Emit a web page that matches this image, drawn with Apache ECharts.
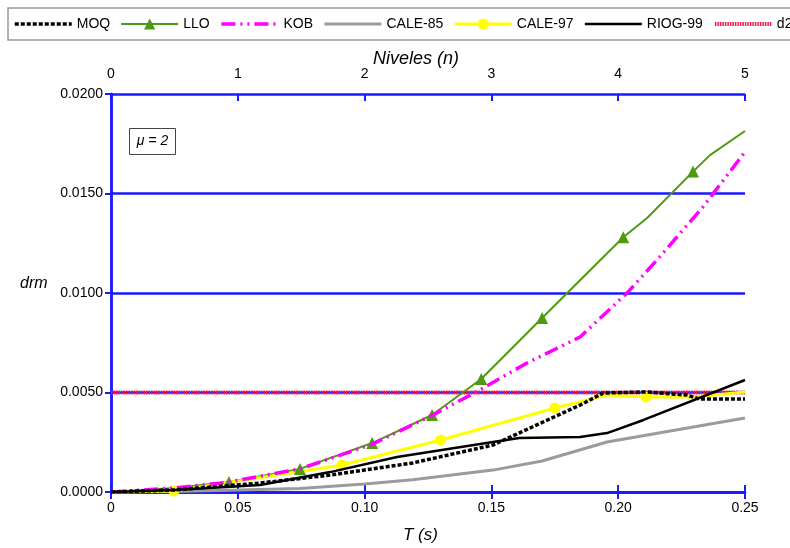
<!DOCTYPE html>
<html>
<head>
<meta charset="utf-8">
<script src="https://cdn.jsdelivr.net/npm/echarts@6/dist/echarts.min.js"></script>
<style>
  html, body { margin: 0; padding: 0; background: #fff; }
  #chart { width: 790px; height: 548px; }
</style>
</head>
<body>
<div id="chart"></div>
<script>
// Periods T (s) and roof drift ratio drm for each method
const moqT   = [0, 0.025, 0.0588, 0.0864, 0.119, 0.1506, 0.185, 0.194, 0.211, 0.227, 0.232, 0.25];
const moqDrm = [0, 0.0001, 0.00045, 0.00085, 0.00146, 0.00236, 0.00437, 0.00497, 0.00503, 0.00487, 0.00467, 0.00467];

const lloT   = [0, 0.025, 0.0465, 0.0745, 0.103, 0.1266, 0.146, 0.170, 0.202, 0.2114, 0.2295, 0.2362, 0.25];
const lloDrm = [0, 0.0002, 0.0005, 0.00116, 0.00246, 0.00387, 0.00568, 0.00874, 0.0128, 0.01377, 0.0161, 0.01693, 0.01814];
const lloMarked = [2, 3, 4, 5, 6, 7, 8, 10];

const kobT   = [0, 0.025, 0.0465, 0.0745, 0.103, 0.1266, 0.1455, 0.164, 0.185, 0.2035, 0.2153, 0.2334, 0.25];
const kobDrm = [0, 0.0002, 0.0005, 0.00116, 0.0024, 0.00385, 0.00513, 0.00648, 0.00779, 0.0100, 0.01166, 0.01432, 0.01709];

const cale85T   = [0, 0.025, 0.05, 0.0745, 0.10, 0.119, 0.1506, 0.17, 0.1956, 0.25];
const cale85Drm = [0, 0.00003, 0.0001, 0.00018, 0.0004, 0.00062, 0.0011, 0.00156, 0.00251, 0.00372];

const cale97T   = [0, 0.0248, 0.0911, 0.130, 0.175, 0.1955, 0.211, 0.2295, 0.25];
const cale97Drm = [0, 0.00005, 0.00136, 0.00261, 0.00422, 0.00487, 0.00478, 0.00477, 0.00503];
const cale97Marked = [1, 2, 3, 4, 6];

const riogT   = [0, 0.025, 0.0588, 0.0864, 0.1128, 0.1506, 0.161, 0.185, 0.1956, 0.21, 0.25];
const riogDrm = [0, 0.0001, 0.00035, 0.001, 0.00176, 0.00251, 0.00271, 0.00276, 0.00296, 0.00362, 0.00563];

const d2T   = [0, 0.25];
const d2Drm = [0.005, 0.005];

// Axis ranges and tick labels
const tTicks = [0, 0.05, 0.10, 0.15, 0.20, 0.25];
const tLabels = ['0', '0.05', '0.10', '0.15', '0.20', '0.25'];
const levelTicks = ['0', '1', '2', '3', '4', '5'];

const BLUE = '#1a1aff';
const FONT = 'Liberation Sans, Arial, sans-serif';

function pairs(xs, ys, marked) {
  return xs.map((x, i) => {
    if (!marked) return [x, ys[i]];
    return marked.includes(i) ? { value: [x, ys[i]] } : { value: [x, ys[i]], symbol: 'none' };
  });
}

// legend entries: plain-line series show no marker in their key
const lineOnly = { itemStyle: { opacity: 0 } };

const chart = echarts.init(document.getElementById('chart'), null, { renderer: 'canvas' });

chart.setOption({
  animation: false,
  backgroundColor: '#fff',
  textStyle: { fontFamily: FONT },
  legend: {
    left: 8, top: 8, width: 900,
    padding: [9, 7, 9, 5],
    borderColor: '#9a9a9a', borderWidth: 1.5,
    itemWidth: 57, itemHeight: 14, itemGap: 10,
    lineStyle: { width: 'inherit' },
    textStyle: { fontSize: 14, color: '#000', fontFamily: FONT },
    data: [
      Object.assign({ name: 'MOQ' }, lineOnly),
      { name: 'LLO' },
      Object.assign({ name: 'KOB' }, lineOnly),
      Object.assign({ name: 'CALE-85' }, lineOnly),
      { name: 'CALE-97' },
      Object.assign({ name: 'RIOG-99' }, lineOnly),
      Object.assign({ name: 'd2' }, lineOnly)
    ]
  },
  grid: { left: 111, right: 45, top: 94, bottom: 56, containLabel: false },
  xAxis: [
    {
      type: 'value', position: 'bottom', min: 0, max: 0.25, interval: 0.05,
      axisLine: { show: true, lineStyle: { color: BLUE, width: 2.5 } },
      axisTick: { show: true, inside: false, length: 7, lineStyle: { color: BLUE, width: 2 } },
      splitLine: { show: false },
      axisLabel: {
        fontSize: 14, color: '#000', margin: 9, fontFamily: FONT,
        formatter: v => { const i = tTicks.findIndex(t => Math.abs(t - v) < 1e-9); return i >= 0 ? tLabels[i] : ''; }
      }
    },
    {
      type: 'value', position: 'top', min: 0, max: 5, interval: 1,
      axisLine: { show: true, lineStyle: { color: BLUE, width: 2.5 } },
      axisTick: { show: true, inside: false, length: 7, lineStyle: { color: BLUE, width: 2 } },
      splitLine: { show: false },
      axisLabel: { fontSize: 14, color: '#000', margin: 13, fontFamily: FONT, formatter: v => levelTicks[Math.round(v)] }
    },
    {
      type: 'value', position: 'top', min: 0, max: 5, interval: 1,
      axisLine: { show: false },
      axisTick: { show: true, inside: true, length: 7, lineStyle: { color: BLUE, width: 2 } },
      splitLine: { show: false },
      axisLabel: { show: false }
    }
  ],
  yAxis: [
    {
      type: 'value', position: 'left', min: 0, max: 0.02, interval: 0.005,
      axisLine: { show: true, lineStyle: { color: BLUE, width: 2.5 } },
      axisTick: { show: true, inside: false, length: 6, lineStyle: { color: BLUE, width: 2 } },
      splitLine: { show: true, lineStyle: { color: BLUE, width: 2.5 } },
      axisLabel: { fontSize: 14, color: '#000', margin: 8, fontFamily: FONT, formatter: v => v.toFixed(4) }
    },
    {
      type: 'value', position: 'right', min: 0, max: 0.02, interval: 0.005,
      axisLine: { show: true, lineStyle: { color: BLUE, width: 2.5 } },
      axisTick: { show: false }, axisLabel: { show: false }, splitLine: { show: false }
    }
  ],
  graphic: [
    { type: 'text', left: 20, top: 276, style: { text: 'drm', font: 'italic 16px ' + FONT, fill: '#000' } },
    { type: 'text', left: 403, top: 527, style: { text: 'T (s)', font: 'italic 17px ' + FONT, fill: '#000' } },
    { type: 'text', left: 373, top: 50, style: { text: 'Niveles (n)', font: 'italic 18px ' + FONT, fill: '#000' } },
    { type: 'rect', shape: { x: 129.5, y: 128.5, width: 46, height: 26 }, style: { fill: '#fff', stroke: '#444', lineWidth: 1 }, z: 10 },
    { type: 'text', x: 152.5, y: 141.5, style: { text: 'μ = 2', font: 'italic 14px ' + FONT, fill: '#000', align: 'center', verticalAlign: 'middle' }, z: 11 }
  ],
  series: [
    {
      name: 'MOQ', type: 'line', z: 4, symbol: 'none', data: pairs(moqT, moqDrm),
      lineStyle: { color: '#000', width: 3.5, type: [4, 2] }, itemStyle: { color: '#000' }
    },
    {
      name: 'LLO', type: 'line', z: 2, symbol: 'triangle', symbolSize: 12, showAllSymbol: true,
      data: pairs(lloT, lloDrm, lloMarked),
      lineStyle: { color: '#4e9a10', width: 2 }, itemStyle: { color: '#4e9a10' }
    },
    {
      name: 'KOB', type: 'line', z: 3, symbol: 'none', data: pairs(kobT, kobDrm),
      lineStyle: { color: '#ff00ff', width: 3.5, type: [14, 5, 2, 5, 2, 5] }, itemStyle: { color: '#ff00ff' }
    },
    {
      name: 'CALE-85', type: 'line', z: 2, symbol: 'none', data: pairs(cale85T, cale85Drm),
      lineStyle: { color: '#9b9b9b', width: 3 }, itemStyle: { color: '#9b9b9b' }
    },
    {
      name: 'CALE-97', type: 'line', z: 2, symbol: 'circle', symbolSize: 11, showAllSymbol: true,
      data: pairs(cale97T, cale97Drm, cale97Marked),
      lineStyle: { color: '#ffff00', width: 3 }, itemStyle: { color: '#ffff00' }
    },
    {
      name: 'RIOG-99', type: 'line', z: 3, symbol: 'none', data: pairs(riogT, riogDrm),
      lineStyle: { color: '#000', width: 2.5 }, itemStyle: { color: '#000' }
    },
    {
      name: 'd2', type: 'line', z: 1, symbol: 'none', data: pairs(d2T, d2Drm),
      lineStyle: { color: '#f0164f', width: 4, type: [1.5, 1] }, itemStyle: { color: '#f0164f' }
    }
  ]
});
</script>
</body>
</html>
